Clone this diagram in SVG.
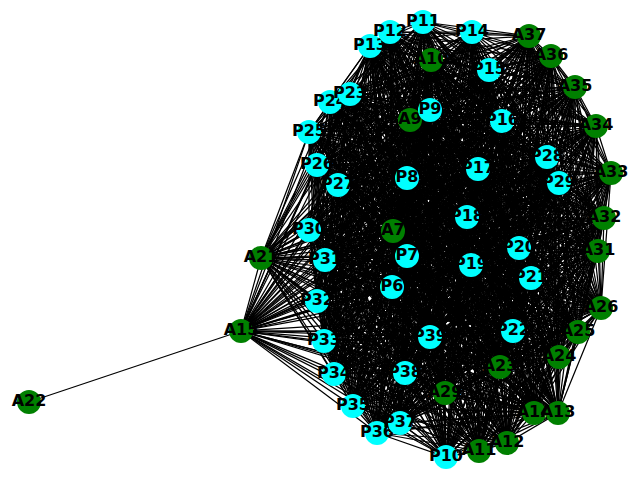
<svg xmlns="http://www.w3.org/2000/svg" width="640" height="480" viewBox="0 0 640 480">
<style>
.e{fill:none;stroke:#000;stroke-width:1.25}
.p circle{fill:#00ffff}
.a circle{fill:#008000}
text{font-family:"DejaVu Sans","Liberation Sans",sans-serif;font-weight:bold;font-size:16px;text-anchor:middle;fill:#000}
</style>
<rect width="640" height="480" fill="#fff"/>
<g id="edges">
<path class="e" d="M241 331L29 402"/>
<path class="e" d="M423 22L390 32 370 46 472 32 529 36 431 60 551 56 489 70 575 87 350 94 330 102 430 110 410 120 502 121 596 126 309 132 317 165 547 157 611 173 478 169 407 178 559 183 338 185 467 217 604 218 309 230 393 231 519 248 598 251 407 256 325 260 471 265 531 278 392 287 317 301 601 308 578 332 513 331 430 337 324 341 559 357 500 367 405 373 334 374 445 393 353 406 534 413 558 413 400 423 377 433 507 443 479 451 446 457 261 258 241 331Z"/>
<path class="e" d="M423 22L370 46 529 36 551 56 575 87 330 102 410 120 596 126 317 165 611 173 407 178 338 185 604 218 393 231 598 251 325 260 531 278 317 301 578 332 430 337 559 357 405 373 445 393 534 413 400 423 507 443 446 457 241 331 390 32 472 32 431 60 489 70 350 94 430 110 502 121 309 132 547 157 478 169 559 183 467 217 309 230 519 248 407 256 471 265 392 287 601 308 513 331 324 341 500 367 334 374 353 406 558 413 377 433 479 451 261 258Z"/>
<path class="e" d="M423 22L472 32 551 56 350 94 410 120 309 132 611 173 559 183 604 218 519 248 325 260 392 287 578 332 324 341 405 373 353 406 400 423 479 451 241 331 370 46 431 60 575 87 430 110 596 126 547 157 407 178 467 217 393 231 407 256 531 278 601 308 430 337 500 367 445 393 558 413 507 443 261 258 390 32 529 36 489 70 330 102 502 121 317 165 478 169 338 185 309 230 598 251 471 265 317 301 513 331 559 357 334 374 534 413 377 433 446 457Z"/>
<path class="e" d="M423 22L529 36 575 87 410 120 317 165 407 178 604 218 598 251 531 278 578 332 559 357 445 393 400 423 446 457 390 32 431 60 350 94 502 121 547 157 559 183 309 230 407 256 392 287 513 331 500 367 353 406 377 433 261 258 370 46 551 56 330 102 596 126 611 173 338 185 393 231 325 260 317 301 430 337 405 373 534 413 507 443 241 331 472 32 489 70 430 110 309 132 478 169 467 217 519 248 471 265 601 308 324 341 334 374 558 413 479 451Z"/>
<path class="e" d="M423 22L431 60 330 102 309 132 407 178 309 230 325 260 601 308 559 357 353 406 507 443ZM390 32L551 56 430 110 317 165 559 183 393 231 471 265 578 332 500 367 534 413 479 451ZM370 46L489 70 410 120 547 157 338 185 519 248 531 278 513 331 405 373 558 413 446 457ZM472 32L575 87 502 121 611 173 467 217 598 251 392 287 430 337 334 374 400 423 261 258ZM529 36L350 94 596 126 478 169 604 218 407 256 317 301 324 341 445 393 377 433 241 331Z"/>
<path class="e" d="M423 22L551 56 410 120 611 173 604 218 325 260 578 332 405 373 400 423 241 331 431 60 430 110 547 157 467 217 407 256 601 308 500 367 558 413 261 258 529 36 330 102 317 165 338 185 598 251 317 301 559 357 534 413 446 457 472 32 350 94 309 132 559 183 519 248 392 287 324 341 353 406 479 451 370 46 575 87 596 126 407 178 393 231 531 278 430 337 445 393 507 443 390 32 489 70 502 121 478 169 309 230 471 265 513 331 334 374 377 433Z"/>
<path class="e" d="M423 22L489 70 596 126 559 183 598 251 601 308 405 373 377 433 390 32 575 87 309 132 338 185 407 256 578 332 334 374 507 443 370 46 350 94 317 165 467 217 325 260 513 331 445 393 479 451 472 32 330 102 547 157 604 218 471 265 430 337 353 406 446 457 529 36 430 110 611 173 309 230 531 278 324 341 534 413 261 258 431 60 410 120 478 169 393 231 392 287 559 357 558 413 241 331 551 56 502 121 407 178 519 248 317 301 500 367 400 423Z"/>
<path class="e" d="M423 22L575 87 317 165 604 218 531 278 559 357 400 423 390 32 350 94 547 157 309 230 392 287 500 367 377 433 370 46 330 102 611 173 393 231 317 301 405 373 507 443 472 32 430 110 478 169 519 248 601 308 334 374 479 451 529 36 410 120 407 178 598 251 578 332 445 393 446 457 431 60 502 121 559 183 407 256 513 331 353 406 261 258 551 56 596 126 338 185 325 260 430 337 534 413 241 331 489 70 309 132 467 217 471 265 324 341 558 413Z"/>
<path class="e" d="M423 22L350 94 611 173 519 248 578 332 353 406 241 331 575 87 547 157 393 231 601 308 445 393 261 258 489 70 317 165 309 230 317 301 334 374 446 457 551 56 309 132 604 218 392 287 405 373 479 451 431 60 596 126 467 217 531 278 500 367 507 443 529 36 502 121 338 185 471 265 559 357 377 433 472 32 410 120 559 183 325 260 324 341 400 423 370 46 430 110 407 178 407 256 430 337 558 413 390 32 330 102 478 169 598 251 513 331 534 413Z"/>
<path class="e" d="M423 22L330 102 407 178 325 260 559 357 507 443 431 60 309 132 309 230 601 308 353 406ZM390 32L430 110 559 183 471 265 500 367 479 451 551 56 317 165 393 231 578 332 534 413ZM370 46L410 120 338 185 531 278 405 373 446 457 489 70 547 157 519 248 513 331 558 413ZM472 32L502 121 467 217 392 287 334 374 261 258 575 87 611 173 598 251 430 337 400 423ZM529 36L596 126 604 218 317 301 445 393 241 331 350 94 478 169 407 256 324 341 377 433Z"/>
<path class="e" d="M423 22L430 110 338 185 392 287 445 393ZM390 32L410 120 467 217 317 301 353 406ZM370 46L502 121 604 218 601 308 534 413ZM472 32L596 126 309 230 578 332 558 413ZM529 36L309 132 393 231 513 331 400 423ZM431 60L317 165 519 248 430 337 377 433ZM551 56L547 157 598 251 324 341 507 443ZM489 70L611 173 407 256 559 357 479 451ZM575 87L478 169 325 260 500 367 446 457ZM350 94L407 178 471 265 405 373 261 258ZM330 102L559 183 531 278 334 374 241 331Z"/>
<path class="e" d="M423 22L410 120 604 218 578 332 400 423 431 60 547 157 407 256 500 367 261 258 330 102 338 185 317 301 534 413 472 32 309 132 519 248 324 341 479 451 575 87 407 178 531 278 445 393 390 32 502 121 309 230 513 331 377 433 551 56 611 173 325 260 405 373 241 331 430 110 467 217 601 308 558 413 529 36 317 165 598 251 559 357 446 457 350 94 559 183 392 287 353 406 370 46 596 126 393 231 430 337 507 443 489 70 478 169 471 265 334 374Z"/>
<path class="e" d="M423 22L502 121 393 231 324 341 446 457 330 102 467 217 578 332 377 433 489 70 407 178 392 287 534 413 529 36 547 157 325 260 334 374 390 32 596 126 519 248 559 357 261 258 430 110 604 218 513 331 507 443 575 87 559 183 317 301 558 413 431 60 611 173 471 265 445 393 370 46 309 132 598 251 500 367 241 331 410 120 309 230 430 337 479 451 350 94 338 185 601 308 400 423 551 56 478 169 531 278 353 406 472 32 317 165 407 256 405 373Z"/>
<path class="e" d="M423 22L596 126 598 251 405 373 390 32 309 132 407 256 334 374 370 46 317 165 325 260 445 393 472 32 547 157 471 265 353 406 529 36 611 173 531 278 534 413 431 60 478 169 392 287 558 413 551 56 407 178 317 301 400 423 489 70 559 183 601 308 377 433 575 87 338 185 578 332 507 443 350 94 467 217 513 331 479 451 330 102 604 218 430 337 446 457 430 110 309 230 324 341 261 258 410 120 393 231 559 357 241 331 502 121 519 248 500 367Z"/>
<path class="e" d="M423 22L309 132 325 260 353 406 431 60 407 178 601 308 507 443 330 102 309 230 559 357ZM390 32L317 165 471 265 534 413 551 56 559 183 578 332 479 451 430 110 393 231 500 367ZM370 46L547 157 531 278 558 413 489 70 338 185 513 331 446 457 410 120 519 248 405 373ZM472 32L611 173 392 287 400 423 575 87 467 217 430 337 261 258 502 121 598 251 334 374ZM529 36L478 169 317 301 377 433 350 94 604 218 324 341 241 331 596 126 407 256 445 393Z"/>
<path class="e" d="M423 22L317 165 531 278 400 423 350 94 309 230 500 367 370 46 611 173 317 301 507 443 430 110 519 248 334 374 529 36 407 178 578 332 446 457 502 121 407 256 353 406 551 56 338 185 430 337 241 331 309 132 471 265 558 413 575 87 604 218 559 357 390 32 547 157 392 287 377 433 330 102 393 231 405 373 472 32 478 169 601 308 479 451 410 120 598 251 445 393 431 60 559 183 513 331 261 258 596 126 325 260 534 413 489 70 467 217 324 341Z"/>
<path class="e" d="M423 22L547 157 317 301 479 451 502 121 325 260 558 413 350 94 393 231 334 374 431 60 338 185 324 341 390 32 611 173 601 308 446 457 596 126 471 265 400 423 330 102 519 248 445 393 551 56 467 217 559 357 370 46 478 169 578 332 261 258 309 132 531 278 377 433 430 110 598 251 353 406 489 70 604 218 500 367 472 32 407 178 513 331 241 331 317 165 392 287 507 443 410 120 407 256 534 413 575 87 309 230 405 373 529 36 559 183 430 337Z"/>
<path class="e" d="M423 22L611 173 578 332 241 331 547 157 601 308 261 258 317 165 317 301 446 457 309 132 392 287 479 451 596 126 531 278 507 443 502 121 471 265 377 433 410 120 325 260 400 423 430 110 407 256 558 413 330 102 598 251 534 413 350 94 519 248 353 406 575 87 393 231 445 393 489 70 309 230 334 374 551 56 604 218 405 373 431 60 467 217 500 367 529 36 338 185 559 357 472 32 559 183 324 341 370 46 407 178 430 337 390 32 478 169 513 331Z"/>
<path class="e" d="M423 22L478 169 430 337 370 46 559 183 559 357 529 36 467 217 405 373 551 56 309 230 445 393 575 87 519 248 534 413 330 102 407 256 400 423 410 120 471 265 507 443 596 126 392 287 446 457 317 165 601 308 241 331 611 173 513 331 390 32 407 178 324 341 472 32 338 185 500 367 431 60 604 218 334 374 489 70 393 231 353 406 350 94 598 251 558 413 430 110 325 260 377 433 502 121 531 278 479 451 309 132 317 301 261 258 547 157 578 332Z"/>
<path class="e" d="M423 22L407 178 559 357 431 60 309 230 353 406 330 102 325 260 507 443 309 132 601 308ZM390 32L559 183 500 367 551 56 393 231 534 413 430 110 471 265 479 451 317 165 578 332ZM370 46L338 185 405 373 489 70 519 248 558 413 410 120 531 278 446 457 547 157 513 331ZM472 32L467 217 334 374 575 87 598 251 400 423 502 121 392 287 261 258 611 173 430 337ZM529 36L604 218 445 393 350 94 407 256 377 433 596 126 317 301 241 331 478 169 324 341Z"/>
<path class="e" d="M423 22L559 183 405 373 575 87 407 256 507 443 317 165 513 331 472 32 604 218 353 406 430 110 531 278 261 258 478 169 559 357 551 56 519 248 400 423 596 126 601 308 390 32 338 185 334 374 350 94 325 260 479 451 547 157 430 337 529 36 309 230 534 413 410 120 392 287 241 331 407 178 500 367 489 70 598 251 377 433 309 132 578 332 370 46 467 217 445 393 330 102 471 265 446 457 611 173 324 341 431 60 393 231 558 413 502 121 317 301Z"/>
<path class="e" d="M423 22L338 185 445 393 430 110 392 287ZM390 32L467 217 353 406 410 120 317 301ZM370 46L604 218 534 413 502 121 601 308ZM472 32L309 230 558 413 596 126 578 332ZM529 36L393 231 400 423 309 132 513 331ZM431 60L519 248 377 433 317 165 430 337ZM551 56L598 251 507 443 547 157 324 341ZM489 70L407 256 479 451 611 173 559 357ZM575 87L325 260 446 457 478 169 500 367ZM350 94L471 265 261 258 407 178 405 373ZM330 102L531 278 241 331 559 183 334 374Z"/>
<path class="e" d="M423 22L467 217 534 413 596 126 513 331 431 60 598 251 479 451 478 169 405 373 330 102 392 287 390 32 604 218 558 413 309 132 430 337 551 56 407 256 446 457 407 178 334 374 430 110 317 301 370 46 309 230 400 423 317 165 324 341 489 70 325 260 261 258 559 183 445 393 410 120 601 308 472 32 393 231 377 433 547 157 559 357 575 87 471 265 241 331 338 185 353 406 502 121 578 332 529 36 519 248 507 443 611 173 500 367 350 94 531 278Z"/>
<path class="e" d="M423 22L604 218 400 423 547 157 500 367 330 102 317 301 472 32 519 248 479 451 407 178 445 393 502 121 513 331 551 56 325 260 241 331 467 217 558 413 317 165 559 357 350 94 392 287 370 46 393 231 507 443 478 169 334 374 410 120 578 332 431 60 407 256 261 258 338 185 534 413 309 132 324 341 575 87 531 278 390 32 309 230 377 433 611 173 405 373 430 110 601 308 529 36 598 251 446 457 559 183 353 406 596 126 430 337 489 70 471 265Z"/>
<path class="e" d="M423 22L309 230 507 443 407 178 353 406 309 132 559 357 330 102 601 308 431 60 325 260ZM390 32L393 231 479 451 559 183 534 413 317 165 500 367 430 110 578 332 551 56 471 265ZM370 46L519 248 446 457 338 185 558 413 547 157 405 373 410 120 513 331 489 70 531 278ZM472 32L598 251 261 258 467 217 400 423 611 173 334 374 502 121 430 337 575 87 392 287ZM529 36L407 256 241 331 604 218 377 433 478 169 445 393 596 126 324 341 350 94 317 301Z"/>
<path class="e" d="M423 22L393 231 446 457 467 217 377 433 407 178 534 413 547 157 334 374 596 126 559 357 430 110 513 331 575 87 317 301 431 60 471 265 370 46 598 251 241 331 309 230 479 451 338 185 400 423 478 169 353 406 317 165 405 373 502 121 324 341 330 102 578 332 489 70 392 287 529 36 325 260 390 32 519 248 261 258 604 218 507 443 559 183 558 413 611 173 445 393 309 132 500 367 410 120 430 337 350 94 601 308 551 56 531 278 472 32 407 256Z"/>
<path class="e" d="M423 22L519 248 241 331 393 231 261 258 309 230 446 457 604 218 479 451 467 217 507 443 338 185 377 433 559 183 400 423 407 178 558 413 478 169 534 413 611 173 353 406 547 157 445 393 317 165 334 374 309 132 405 373 596 126 500 367 502 121 559 357 410 120 324 341 430 110 430 337 330 102 513 331 350 94 578 332 575 87 601 308 489 70 317 301 551 56 392 287 431 60 531 278 529 36 471 265 472 32 325 260 370 46 407 256 390 32 598 251Z"/>
</g>
<g id="A22" class="a"><circle cx="29" cy="402" r="12"/><text x="29" y="406">A22</text></g>
<g id="A15" class="a"><circle cx="241" cy="331" r="12"/><text x="241" y="335">A15</text></g>
<g id="A21" class="a"><circle cx="261" cy="258" r="12"/><text x="261" y="262">A21</text></g>
<g id="P13" class="p"><circle cx="370" cy="46" r="12"/><text x="370" y="50">P13</text></g>
<g id="P12" class="p"><circle cx="390" cy="32" r="12"/><text x="390" y="36">P12</text></g>
<g id="P11" class="p"><circle cx="423" cy="22" r="12"/><text x="423" y="26">P11</text></g>
<g id="P14" class="p"><circle cx="472" cy="32" r="12"/><text x="472" y="36">P14</text></g>
<g id="A37" class="a"><circle cx="529" cy="36" r="12"/><text x="529" y="40">A37</text></g>
<g id="A36" class="a"><circle cx="551" cy="56" r="12"/><text x="551" y="60">A36</text></g>
<g id="A10" class="a"><circle cx="431" cy="60" r="12"/><text x="431" y="64">A10</text></g>
<g id="P15" class="p"><circle cx="489" cy="70" r="12"/><text x="489" y="74">P15</text></g>
<g id="A35" class="a"><circle cx="575" cy="87" r="12"/><text x="575" y="91">A35</text></g>
<g id="P24" class="p"><circle cx="330" cy="102" r="12"/><text x="330" y="106">P24</text></g>
<g id="P23" class="p"><circle cx="350" cy="94" r="12"/><text x="350" y="98">P23</text></g>
<g id="A9" class="a"><circle cx="410" cy="120" r="12"/><text x="410" y="124">A9</text></g>
<g id="P9" class="p"><circle cx="430" cy="110" r="12"/><text x="430" y="114">P9</text></g>
<g id="P16" class="p"><circle cx="502" cy="121" r="12"/><text x="502" y="125">P16</text></g>
<g id="A34" class="a"><circle cx="596" cy="126" r="12"/><text x="596" y="130">A34</text></g>
<g id="P25" class="p"><circle cx="309" cy="132" r="12"/><text x="309" y="136">P25</text></g>
<g id="P26" class="p"><circle cx="317" cy="165" r="12"/><text x="317" y="169">P26</text></g>
<g id="P27" class="p"><circle cx="338" cy="185" r="12"/><text x="338" y="189">P27</text></g>
<g id="P8" class="p"><circle cx="407" cy="178" r="12"/><text x="407" y="182">P8</text></g>
<g id="P17" class="p"><circle cx="478" cy="169" r="12"/><text x="478" y="173">P17</text></g>
<g id="P28" class="p"><circle cx="547" cy="157" r="12"/><text x="547" y="161">P28</text></g>
<g id="P29" class="p"><circle cx="559" cy="183" r="12"/><text x="559" y="187">P29</text></g>
<g id="A33" class="a"><circle cx="611" cy="173" r="12"/><text x="611" y="177">A33</text></g>
<g id="P18" class="p"><circle cx="467" cy="217" r="12"/><text x="467" y="221">P18</text></g>
<g id="A32" class="a"><circle cx="604" cy="218" r="12"/><text x="604" y="222">A32</text></g>
<g id="P30" class="p"><circle cx="309" cy="230" r="12"/><text x="309" y="234">P30</text></g>
<g id="A7" class="a"><circle cx="393" cy="231" r="12"/><text x="393" y="235">A7</text></g>
<g id="P20" class="p"><circle cx="519" cy="248" r="12"/><text x="519" y="252">P20</text></g>
<g id="A31" class="a"><circle cx="598" cy="251" r="12"/><text x="598" y="255">A31</text></g>
<g id="P7" class="p"><circle cx="407" cy="256" r="12"/><text x="407" y="260">P7</text></g>
<g id="P31" class="p"><circle cx="325" cy="260" r="12"/><text x="325" y="264">P31</text></g>
<g id="P19" class="p"><circle cx="471" cy="265" r="12"/><text x="471" y="269">P19</text></g>
<g id="P21" class="p"><circle cx="531" cy="278" r="12"/><text x="531" y="282">P21</text></g>
<g id="P6" class="p"><circle cx="392" cy="287" r="12"/><text x="392" y="291">P6</text></g>
<g id="P32" class="p"><circle cx="317" cy="301" r="12"/><text x="317" y="305">P32</text></g>
<g id="A26" class="a"><circle cx="601" cy="308" r="12"/><text x="601" y="312">A26</text></g>
<g id="A25" class="a"><circle cx="578" cy="332" r="12"/><text x="578" y="336">A25</text></g>
<g id="P22" class="p"><circle cx="513" cy="331" r="12"/><text x="513" y="335">P22</text></g>
<g id="P39" class="p"><circle cx="430" cy="337" r="12"/><text x="430" y="341">P39</text></g>
<g id="P33" class="p"><circle cx="324" cy="341" r="12"/><text x="324" y="345">P33</text></g>
<g id="A24" class="a"><circle cx="559" cy="357" r="12"/><text x="559" y="361">A24</text></g>
<g id="A23" class="a"><circle cx="500" cy="367" r="12"/><text x="500" y="371">A23</text></g>
<g id="P38" class="p"><circle cx="405" cy="373" r="12"/><text x="405" y="377">P38</text></g>
<g id="P34" class="p"><circle cx="334" cy="374" r="12"/><text x="334" y="378">P34</text></g>
<g id="A29" class="a"><circle cx="445" cy="393" r="12"/><text x="445" y="397">A29</text></g>
<g id="P35" class="p"><circle cx="353" cy="406" r="12"/><text x="353" y="410">P35</text></g>
<g id="A14" class="a"><circle cx="534" cy="413" r="12"/><text x="534" y="417">A14</text></g>
<g id="A13" class="a"><circle cx="558" cy="413" r="12"/><text x="558" y="417">A13</text></g>
<g id="P36" class="p"><circle cx="377" cy="433" r="12"/><text x="377" y="437">P36</text></g>
<g id="P37" class="p"><circle cx="400" cy="423" r="12"/><text x="400" y="427">P37</text></g>
<g id="A12" class="a"><circle cx="507" cy="443" r="12"/><text x="507" y="447">A12</text></g>
<g id="A11" class="a"><circle cx="479" cy="451" r="12"/><text x="479" y="455">A11</text></g>
<g id="P10" class="p"><circle cx="446" cy="457" r="12"/><text x="446" y="461">P10</text></g>
</svg>
